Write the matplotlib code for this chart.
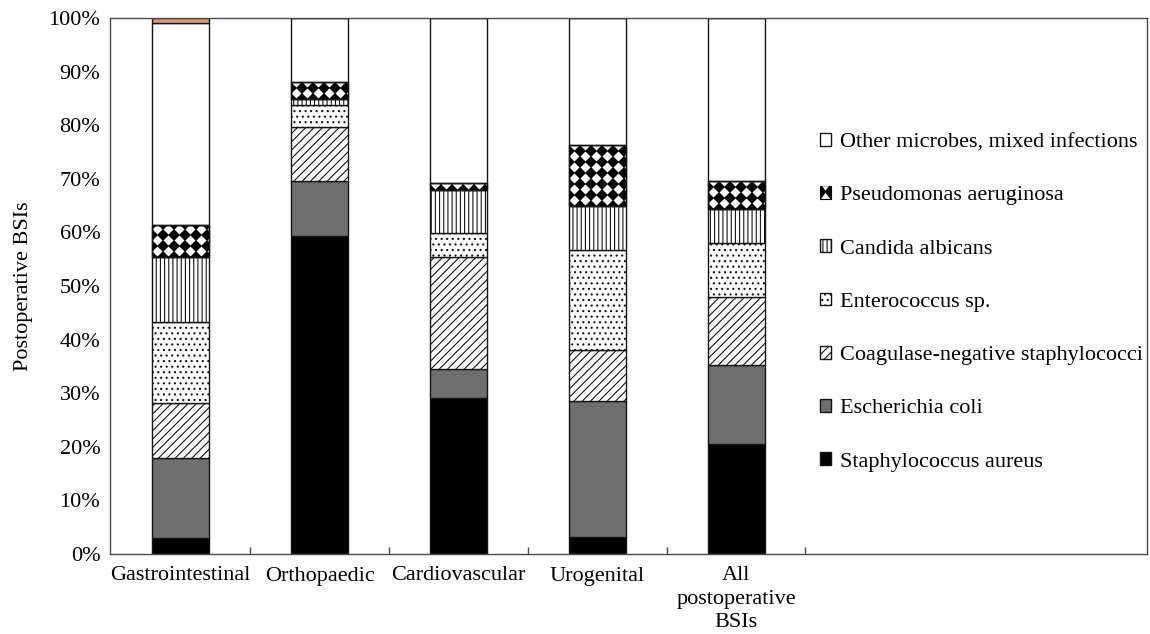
import numpy as np
import matplotlib
matplotlib.use("Agg")
import matplotlib.pyplot as plt
from matplotlib.patches import Rectangle, Polygon
from matplotlib.ticker import FixedLocator

plt.rcParams['font.family'] = ['Liberation Serif', 'DejaVu Serif']
plt.rcParams['hatch.linewidth'] = 0.8

# data (percent of postoperative BSIs)
categories = ["Gastrointestinal", "Orthopaedic", "Cardiovascular", "Urogenital",
              "All\npostoperative\nBSIs"]
staph_aureus = [3.0, 59.4, 29.1, 3.2, 20.5]
e_coli = [15.0, 10.1, 5.5, 25.4, 14.8]
cons = [10.2, 10.1, 20.9, 9.5, 12.6]
enterococcus = [15.1, 4.2, 4.3, 18.7, 10.1]
candida = [12.1, 1.1, 8.2, 8.1, 6.4]
pseudomonas = [6.0, 3.1, 1.3, 11.4, 5.2]
other = [37.7, 12.0, 30.7, 23.7, 30.4]
unlabelled = [0.9, 0.0, 0.0, 0.0, 0.0]

series = [
    ("Staphylococcus aureus", staph_aureus, dict(color="black", hatch=None)),
    ("Escherichia coli", e_coli, dict(color="#6e6e6e", hatch=None)),
    ("Coagulase-negative staphylococci", cons, dict(color="white", hatch="////")),
    ("Enterococcus sp.", enterococcus, dict(color="white", hatch="...")),
    ("Candida albicans", candida, dict(color="white", hatch="||||")),
    ("Pseudomonas aeruginosa", pseudomonas, dict(color="white", hatch=None)),
    ("Other microbes, mixed infections", other, dict(color="white", hatch=None)),
    ("_nolegend_", unlabelled, dict(color="#d99a78", hatch=None)),
]


class HourglassHandler:
    # small black square with white wedges, like the legend key in the figure
    def legend_artist(self, legend, orig_handle, fontsize, handlebox):
        x0, y0 = -handlebox.xdescent, -handlebox.ydescent
        w, h = handlebox.width, handlebox.height
        tr = handlebox.get_transform()
        sq = Rectangle((x0, y0), w, h, facecolor="black", edgecolor="black",
                       lw=0.8, transform=tr)
        top = Polygon([[x0 + w * 0.2, y0 + h], [x0 + w * 0.8, y0 + h],
                       [x0 + w * 0.5, y0 + h * 0.65]], facecolor="white",
                      edgecolor="none", transform=tr)
        bot = Polygon([[x0 + w * 0.1, y0], [x0 + w * 0.9, y0],
                       [x0 + w * 0.5, y0 + h * 0.5]], facecolor="white",
                      edgecolor="none", transform=tr)
        handlebox.add_artist(sq)
        handlebox.add_artist(top)
        handlebox.add_artist(bot)
        return sq


W, H = 1150, 634
fig = plt.figure(figsize=(W / 100, H / 100), dpi=100)
ax = fig.add_axes([110 / W, 1 - 554 / H, (1147 - 110) / W, (554 - 18) / H])
ax.set_xlim(-0.51, 6.96)
ax.set_ylim(0, 100)

x = np.arange(len(categories))
width = 0.41
bottom = np.zeros(len(categories))
containers = {}
for name, vals, st in series:
    vals = np.array(vals)
    bc = ax.bar(x, vals, width, bottom=bottom, color=st["color"],
                hatch=st["hatch"], edgecolor="#141414", linewidth=1.0,
                label=name)
    containers[name] = (bc, bottom.copy(), vals)
    bottom = bottom + vals

# diamond checker pattern for Pseudomonas aeruginosa
bc, bot, vals = containers["Pseudomonas aeruginosa"]
p0 = ax.transData.transform((0, 0))
p1 = ax.transData.transform((1, 1))
pxx, pxy = p1 - p0
P = 11.0
dx, dy = P / pxx, P / pxy
for rect, b, v in zip(bc.patches, bot, vals):
    if v <= 0:
        continue
    xl = rect.get_x()
    xs = np.arange(xl, xl + width + dx, dx)
    ys = np.arange(b, b + v + dy, dy)
    gx, gy = np.meshgrid(xs, ys)
    ln, = ax.plot(gx.ravel(), gy.ravel(), ls="none", marker="D", ms=5.9,
                  mew=0, color="black", zorder=1.5)
    ln.set_clip_path(rect)
    ax.add_patch(Rectangle((xl, b), width, v, fill=False,
                           edgecolor="#141414", lw=1.0, zorder=2))

# axes styling
for sp in ax.spines.values():
    sp.set_color("#4a4a4a")
    sp.set_linewidth(1.0)

ax.set_yticks(np.arange(0, 101, 10))
ax.set_yticklabels(["%d%%" % v for v in range(0, 101, 10)], fontsize=16)
ax.tick_params(axis="y", length=0, pad=7)
ax.set_xticks(x)
ax.set_xticklabels(categories, fontsize=16, linespacing=1.3)
ax.tick_params(axis="x", which="major", length=0, pad=9)
ax.xaxis.set_minor_locator(FixedLocator(x + 0.5))
ax.tick_params(axis="x", which="minor", direction="in", length=5,
               width=1.0, color="#4a4a4a")

ax.set_ylabel("Postoperative BSIs", fontsize=16)
ax.yaxis.set_label_coords(-0.074, 0.5)

handles, labels = ax.get_legend_handles_labels()
handles, labels = handles[::-1], labels[::-1]
pse = handles[labels.index("Pseudomonas aeruginosa")]
leg = ax.legend(handles, labels, loc="upper left",
                bbox_to_anchor=(820 / W, 1 - 133 / H),
                bbox_transform=fig.transFigure, frameon=False, fontsize=16,
                handlelength=0.5, handleheight=0.5, handletextpad=0.4,
                labelspacing=1.53, borderpad=0, borderaxespad=0,
                handler_map={pse: HourglassHandler()})

fig.savefig("out.png", dpi=100)
